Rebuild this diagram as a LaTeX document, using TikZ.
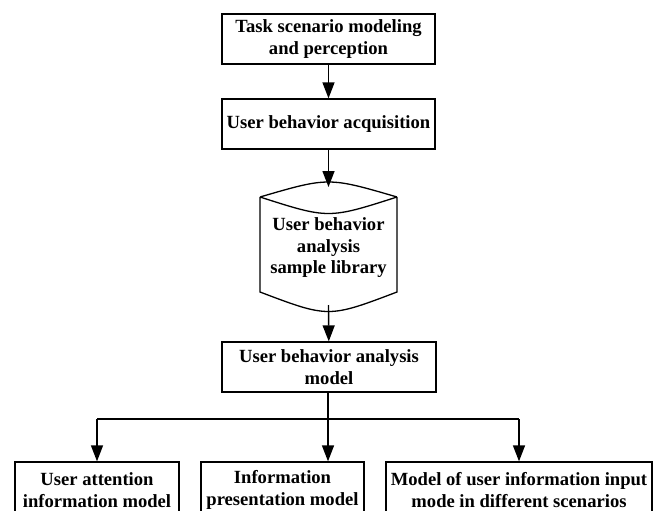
\documentclass[tikz,border=0pt]{standalone}
\usepackage{fontspec}
\setmainfont{Liberation Serif}
\usetikzlibrary{arrows.meta}
\begin{document}
\begin{tikzpicture}[x=1pt,y=-1pt,
  box/.style={draw=black,line width=1.3pt,align=center,inner sep=0pt,
    font=\fontsize{18.6}{21.5}\selectfont\bfseries},
  conn/.style={line width=1.4pt,-{Triangle[length=16pt,width=12pt]}},
  plain/.style={line width=1.4pt}]
\useasboundingbox (0,0) rectangle (656,511);
\node[box,minimum width=213pt,minimum height=50pt] (b1) at (328.5,39) {Task scenario modeling\\and perception};
\node[box,minimum width=213pt,minimum height=50pt] (b2) at (328.5,124) {User behavior acquisition};
\node[box,draw=none,minimum width=137pt,minimum height=118pt] (lib) at (328.5,248) {User behavior\\analysis\\sample library};
\draw[line width=1.3pt] (260,197) .. controls (328.5,177) .. (397,197)
  (260,197) .. controls (328.5,219) .. (397,197)
  (260,197) -- (260,292) .. controls (328.5,318) .. (397,292) -- (397,197);
\coordinate (libtop) at (328.5,187);
\coordinate (libbot) at (328.5,305);
\node[box,minimum width=214pt,minimum height=50pt] (b4) at (329,367) {User behavior analysis\\model};
\node[box,minimum width=164pt,minimum height=56pt] (b5) at (97,490) {User attention\\information model};
\node[box,minimum width=163pt,minimum height=56pt] (b6) at (282.5,490) {Information\\presentation model};
\node[box,minimum width=266pt,minimum height=56pt] (b7) at (519,490) {Model of user information input\\mode in different scenarios};
\coordinate (jl) at (97,419);
\coordinate (jm) at (328,419);
\coordinate (jr) at (519,419);
\draw[conn] (b1) -- (b2);
\draw[conn] (b2) -- (libtop);
\draw[conn] (libbot) -- (b4);
\draw[plain] (b4.south -| jm) -- (jm);
\draw[plain] (jl) -- (jr);
\draw[conn] (jl) -- (b5.north -| jl);
\draw[conn] (jm) -- (b6.north -| jm);
\draw[conn] (jr) -- (b7.north -| jr);
\end{tikzpicture}
\end{document}
